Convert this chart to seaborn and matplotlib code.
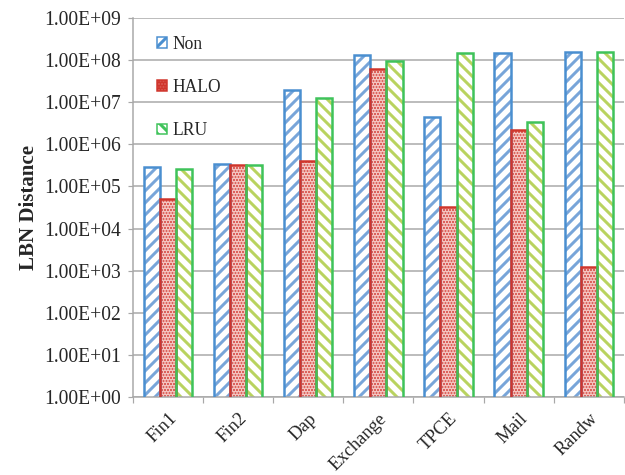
import matplotlib
matplotlib.use("Agg")
import matplotlib.pyplot as plt
import matplotlib.transforms as mtransforms
import pandas as pd
import seaborn as sns
from matplotlib.patches import Patch
from matplotlib.ticker import FixedLocator, FuncFormatter

# Workloads and measured LBN distance per caching scheme
workloads = ["Fin1", "Fin2", "Dap", "Exchange", "TPCE", "Mail", "Randw"]
schemes = ["Non", "HALO", "LRU"]
non_dist = [2.9e5, 3.4e5, 1.95e7, 1.3e8, 4.5e6, 1.5e8, 1.6e8]
halo_dist = [5.0e4, 3.2e5, 4.0e5, 6.2e7, 3.3e4, 2.2e6, 1.2e3]
lru_dist = [2.6e5, 3.3e5, 1.26e7, 9.5e7, 1.5e8, 3.4e6, 1.6e8]
y_ticks = [10.0 ** k for k in range(0, 10)]

df = pd.DataFrame({
    "Workload": workloads * 3,
    "Distance": non_dist + halo_dist + lru_dist,
    "Scheme": [s for s in schemes for _ in workloads],
})

# Per-scheme styling: fill, hatch colour, hatch pattern, outline colour
face = {"Non": "white", "HALO": "#d9554e", "LRU": "white"}
hatch_col = {"Non": "#78a5d9", "HALO": "#f4c6c2", "LRU": "#b9d35f"}
hatch = {"Non": "//", "HALO": "....", "LRU": "\\\\"}
outline = {"Non": "#4a8fd0", "HALO": "#d0352c", "LRU": "#3fc35a"}

sns.set_style("white")
plt.rcParams["font.family"] = ["Liberation Serif", "DejaVu Serif"]
plt.rcParams["hatch.linewidth"] = 3.0

fig = plt.figure(figsize=(625 / 72, 475 / 72), dpi=72)
ax = fig.add_axes([0.2128, 0.1642, 0.7852, 0.7978])
ax.set_yscale("log")

# Layer 1: hatched fills
sns.barplot(data=df, x="Workload", y="Distance", hue="Scheme", hue_order=schemes,
            palette=[face[s] for s in schemes], width=0.69, gap=0, saturation=1,
            legend=False, ax=ax, zorder=2)
for cont, s in zip(ax.containers, schemes):
    for bar in cont:
        bar.set_facecolor(face[s])
        bar.set_edgecolor(hatch_col[s])
        bar.set_hatch(hatch[s])
        bar.set_linewidth(0)

# Layer 2: coloured outlines
sns.barplot(data=df, x="Workload", y="Distance", hue="Scheme", hue_order=schemes,
            palette=[outline[s] for s in schemes], width=0.69, gap=0, saturation=1,
            fill=False, linewidth=2.5, legend=False, ax=ax, zorder=3)

ax.set_ylim(1, 1e9)
ax.set_xlim(-0.5, len(workloads) - 0.5)
ax.yaxis.set_major_locator(FixedLocator(y_ticks))
ax.yaxis.set_minor_locator(FixedLocator([]))
ax.yaxis.set_major_formatter(FuncFormatter(lambda v, _: f"{v:.2E}"))
ax.yaxis.grid(True, color="#a8a8a8", linewidth=1.5, zorder=0)
ax.set_axisbelow(True)

grey = "#a8a8a8"
for side in ["top", "right"]:
    ax.spines[side].set_visible(False)
for side in ["left", "bottom"]:
    ax.spines[side].set_color(grey)
    ax.spines[side].set_linewidth(1.5)

ax.set_xticks(range(len(workloads)))
ax.set_xticklabels(workloads, rotation=45, ha="right", rotation_mode="anchor",
                   fontsize=18.5)
shift = mtransforms.ScaledTranslation(-2 / 72, 0, fig.dpi_scale_trans)
for lbl in ax.get_xticklabels():
    lbl.set_transform(lbl.get_transform() + shift)
ax.xaxis.set_minor_locator(FixedLocator([i - 0.5 for i in range(len(workloads) + 1)]))
ax.tick_params(axis="x", which="major", length=0, pad=13)
ax.tick_params(axis="x", which="minor", length=6, width=1.2, color=grey,
               direction="out", bottom=True)
ax.tick_params(axis="y", which="major", length=5, width=1.2, color=grey,
               direction="out", left=True, labelsize=19.5, pad=7)

ax.set_xlabel("")
ax.set_ylabel("LBN Distance", fontsize=21, fontweight="bold", labelpad=5)

handles = [Patch(facecolor=face[s], edgecolor=outline[s], hatch=hatch[s],
                 linewidth=1.5, label=s) for s in schemes]
ax.legend(handles=handles, loc="upper left", bbox_to_anchor=(0.035, 0.972),
          frameon=False, fontsize=17.5, labelspacing=1.5, handlelength=0.55,
          handleheight=0.55, handletextpad=0.35, borderaxespad=0)

fig.savefig("out.png", dpi=72)
